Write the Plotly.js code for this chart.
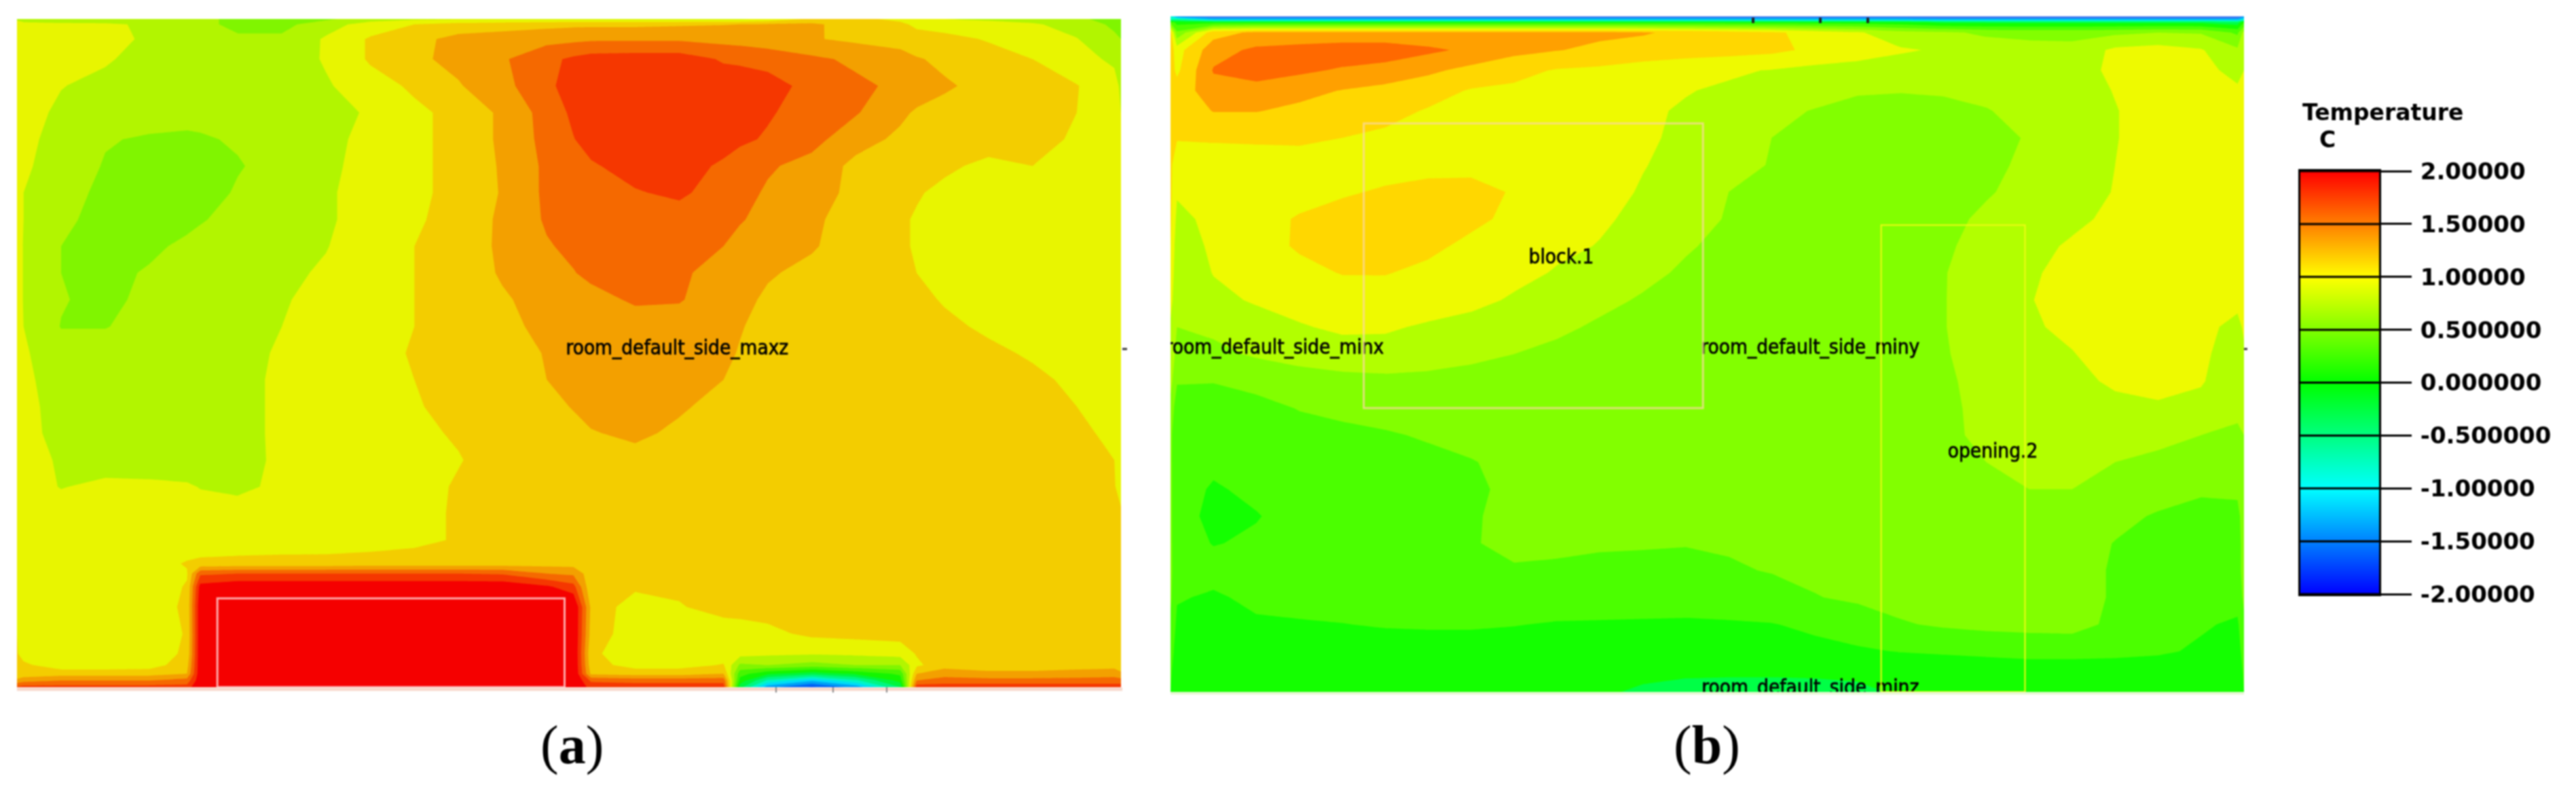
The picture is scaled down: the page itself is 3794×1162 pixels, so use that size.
<!DOCTYPE html>
<html><head><meta charset="utf-8">
<script src="https://cdn.plot.ly/plotly-3.0.1.min.js"></script>
<style>html,body{margin:0;padding:0;background:#fff}#c{width:3794px;height:1162px;filter:blur(1.1px)}.textpoint text{stroke:#000;stroke-width:.7px}</style></head>
<body><div id="c"></div>
<script>
// Contour levels and band colours, lowest band first
const levelStart=-2, levelEnd=2, levelStep=0.25;
const bandColorsA=['rgb(0,0,245)','rgb(0,40,245)','rgb(0,100,245)','rgb(0,160,245)','rgb(0,220,245)','rgb(0,245,200)','rgb(0,245,130)','rgb(0,245,60)','rgb(20,245,0)','rgb(72,245,0)','rgb(128,245,0)','rgb(178,245,0)','rgb(232,245,0)','rgb(243,205,0)','rgb(243,160,0)','rgb(245,105,0)','rgb(245,55,0)','rgb(245,0,0)'];
const bandColorsB=['rgb(0,0,245)','rgb(40,60,240)','rgb(60,120,240)','rgb(0,170,245)','rgb(0,225,245)','rgb(0,255,200)','rgb(0,255,130)','rgb(0,255,70)','rgb(20,255,0)','rgb(75,255,0)','rgb(130,255,0)','rgb(178,255,0)','rgb(238,250,0)','rgb(255,215,0)','rgb(255,160,0)','rgb(255,105,0)','rgb(255,55,0)','rgb(245,0,0)'];
// Panel (a): temperature read at grid points (% of width, % of height from top)
const xA=[0,.6,4,8,12,15.4,16.6,20,24,28,32,36,40,44,48,50.4,52,56,60,64,65.5,68,72,76,80,81.5,84,88,92,96,99.4,100];
const yA=[0,.8,3,6,10,14,18,22,26,30,34,38,42,46,50,54,58,62,66,70,74,78,81.5,83,85,88,92,95,96.7,98,99,100];
const zA=[
[.7,.6,.55,.55,.55,.55,.55,.45,.35,.45,.65,.7,.72,.72,.72,.72,.72,.72,.72,.72,.72,.8,1.05,1.05,.95,.85,.75,.7,.65,.55,.4,.4],
[.9,.85,.82,.8,.7,.62,.58,.42,.42,.65,.85,1,1.1,1.15,1.18,1.2,1.2,1.2,1.22,1.24,1.25,1.28,1.3,1.12,1.05,.95,.9,.85,.78,.65,.45,.45],
[.95,.88,.88,.85,.7,.62,.6,.55,.55,.78,1.03,1.17,1.33,1.36,1.42,1.44,1.46,1.46,1.46,1.42,1.4,1.35,1.27,1.2,1.15,1.1,1.07,.98,.85,.76,.55,.5],
[1,.9,.85,.78,.65,.6,.58,.58,.58,.78,1.03,1.2,1.32,1.47,1.68,1.8,1.86,1.88,1.88,1.72,1.7,1.66,1.55,1.45,1.35,1.27,1.2,1.1,1,.85,.7,.6],
[1,.85,.76,.68,.62,.58,.57,.56,.56,.72,.9,1.04,1.23,1.42,1.7,1.85,1.88,1.9,1.9,1.9,1.9,1.85,1.67,1.55,1.45,1.38,1.28,1.18,1.1,1.01,.85,.7],
[1,.85,.7,.65,.62,.6,.59,.58,.58,.6,.8,.95,1.07,1.3,1.6,1.8,1.88,1.9,1.9,1.9,1.88,1.78,1.63,1.52,1.3,1.22,1.18,1.1,1.05,1,.85,.75],
[1,.8,.68,.52,.47,.45,.47,.53,.55,.68,.82,.95,1.07,1.3,1.58,1.74,1.85,1.9,1.9,1.88,1.8,1.72,1.58,1.35,1.2,1.18,1.15,1.1,1.05,.98,.85,.75],
[1,.78,.66,.48,.42,.4,.4,.48,.6,.7,.83,.95,1.07,1.28,1.55,1.68,1.72,1.85,1.88,1.7,1.62,1.53,1.42,1.18,1.13,1.1,1.04,.95,1,.97,.85,.75],
[1,.75,.6,.44,.4,.38,.38,.53,.65,.72,.84,.95,1.07,1.27,1.55,1.6,1.65,1.73,1.8,1.62,1.58,1.47,1.33,1.2,1.06,1.02,.95,.9,.9,.9,.82,.75],
[1,.75,.55,.42,.38,.42,.48,.58,.64,.72,.84,.97,1.08,1.3,1.53,1.6,1.63,1.63,1.63,1.58,1.52,1.42,1.28,1.18,1.03,.98,.93,.9,.9,.9,.82,.75],
[1,.72,.5,.4,.44,.56,.58,.62,.67,.74,.88,1,1.1,1.3,1.48,1.55,1.6,1.64,1.62,1.5,1.42,1.35,1.27,1.15,1.03,.98,.93,.9,.9,.9,.82,.75],
[1,.72,.5,.42,.53,.6,.62,.64,.7,.78,.9,1,1.1,1.28,1.42,1.49,1.55,1.6,1.53,1.43,1.38,1.27,1.2,1.1,1.03,1,.92,.88,.88,.88,.82,.75],
[1,.72,.52,.42,.58,.6,.62,.66,.73,.82,.9,1,1.1,1.22,1.35,1.4,1.43,1.53,1.52,1.35,1.3,1.22,1.17,1.13,1.08,1.06,.98,.88,.85,.85,.8,.75],
[1,.75,.49,.49,.58,.6,.62,.66,.75,.84,.9,1,1.1,1.2,1.3,1.35,1.38,1.4,1.38,1.3,1.26,1.2,1.15,1.12,1.08,1.07,1.05,.96,.88,.85,.8,.75],
[1,.78,.6,.6,.6,.6,.62,.67,.78,.84,.92,1.02,1.1,1.18,1.26,1.3,1.33,1.35,1.33,1.28,1.24,1.18,1.14,1.12,1.1,1.1,1.08,1.05,.97,.88,.8,.75],
[1,.8,.64,.6,.6,.6,.62,.67,.8,.85,.92,1,1.08,1.16,1.25,1.3,1.33,1.35,1.32,1.25,1.2,1.15,1.12,1.1,1.1,1.1,1.1,1.08,1.05,.95,.82,.75],
[1,.82,.66,.6,.6,.6,.62,.67,.8,.86,.92,.98,1.07,1.13,1.2,1.26,1.3,1.32,1.27,1.2,1.17,1.14,1.12,1.1,1.1,1.1,1.1,1.1,1.07,1,.85,.75],
[1,.82,.68,.62,.6,.6,.62,.67,.8,.86,.92,.96,1.02,1.1,1.16,1.2,1.24,1.28,1.22,1.17,1.15,1.13,1.12,1.1,1.1,1.1,1.1,1.1,1.08,1.05,.95,.75],
[1,.85,.72,.65,.62,.6,.62,.66,.8,.86,.9,.95,.99,1.08,1.13,1.15,1.17,1.2,1.14,1.13,1.12,1.12,1.12,1.12,1.12,1.12,1.12,1.12,1.1,1.07,1,.85],
[1,.85,.74,.8,.8,.78,.74,.7,.8,.85,.9,.93,1.02,1.05,1.1,1.12,1.12,1.12,1.12,1.12,1.12,1.12,1.12,1.12,1.12,1.12,1.12,1.12,1.1,1.08,1.03,.85],
[1,.88,.85,.85,.85,.85,.85,.85,.86,.88,.9,.95,1.02,1.08,1.1,1.1,1.1,1.1,1.1,1.1,1.1,1.1,1.1,1.1,1.1,1.1,1.1,1.1,1.1,1.1,1.07,1.05],
[1,.88,.86,.86,.86,.86,.86,.86,.87,.88,.9,.95,1.02,1.08,1.1,1.1,1.1,1.1,1.1,1.1,1.1,1.1,1.1,1.1,1.1,1.1,1.1,1.1,1.1,1.1,1.1,1.1],
[1,.88,.86,.86,.9,1.02,1.05,1.07,1.08,1.08,1.1,1.1,1.1,1.12,1.15,1.15,1.1,1.1,1.1,1.1,1.1,1.1,1.1,1.1,1.1,1.1,1.1,1.1,1.1,1.1,1.1,1.1],
[1,.88,.86,.86,.92,.98,1.7,1.75,1.75,1.75,1.75,1.75,1.75,1.72,1.5,1.45,1.1,1.1,1.1,1.1,1.1,1.1,1.1,1.1,1.1,1.1,1.1,1.1,1.1,1.1,1.1,1.1],
[1,.88,.86,.86,.86,1.02,2.1,2.2,2.2,2.2,2.2,2.2,2.2,2.2,2.05,1.85,1.05,1.05,1.05,1.08,1.1,1.1,1.1,1.1,1.1,1.1,1.1,1.1,1.1,1.1,1.1,1.1],
[1,.85,.85,.85,.86,1.05,2.2,2.2,2.2,2.2,2.2,2.2,2.2,2.2,2.2,2.3,1.2,.85,.98,1.1,1.1,1.1,1.1,1.1,1.1,1.1,1.1,1.1,1.1,1.1,1.1,1.1],
[1,.85,.85,.85,.85,1.02,2.2,2.2,2.2,2.2,2.2,2.2,2.2,2.2,2.2,2.3,1.15,.85,.85,.85,.88,.94,1.05,1.08,1.1,1.1,1.1,1.1,1.1,1.1,1.1,1.1],
[1.02,.9,.85,.85,.85,1.05,2.2,2.2,2.2,2.2,2.2,2.2,2.2,2.2,2.2,2.3,1.05,.85,.85,.85,.85,.8,.78,.8,.85,1.02,1.12,1.12,1.12,1.12,1.12,1.1],
[1.05,1.05,.85,.85,.88,1.15,2.2,2.2,2.2,2.2,2.2,2.2,2.2,2.2,2.2,2.3,1.1,.9,.9,1.02,.45,.5,.4,.5,.5,.95,1.15,1.15,1.15,1.15,1.15,1.1],
[1.1,1.1,1.15,1.15,1.15,1.25,2.2,2.2,2.2,2.2,2.2,2.2,2.2,2.2,2.2,2.3,1.2,1.15,1.15,1.25,.1,-.2,-.4,-.2,.05,1.25,1.4,1.3,1.3,1.35,1.4,1.3],
[1.3,1.4,1.5,1.5,1.5,1.6,2.2,2.2,2.2,2.2,2.2,2.2,2.2,2.2,2.2,2.3,1.7,1.65,1.65,1.65,-.1,-.8,-1.2,-.8,-.15,1.5,1.6,1.6,1.6,1.6,1.6,1.6],
[1.8,1.85,1.85,1.85,1.85,1.85,2.3,2.3,2.3,2.3,2.3,2.3,2.3,2.3,2.3,2.3,1.9,1.9,1.9,1.9,-.4,-1.4,-1.8,-1.4,-.5,1.9,1.9,1.9,1.9,1.9,1.9,1.9]
];
// Panel (b)
const xB=[0,.6,4,8,12,16,20,24,28,32,36,40,44,48,52,56,60,64,68,72,76,80,84,88,92,96,99.4,100];
const yB=[0,.45,.9,2.4,5,8,11,14,18,22,26,30,34,38,42,46,50,54,58,62,66,70,74,78,82,86,90,94,97,100];
const zB=[
[-1,-1.5,-1.7,-1.7,-1.7,-1.7,-1.7,-1.7,-1.7,-1.7,-1.7,-1.7,-1.7,-1.7,-1.7,-1.7,-1.7,-1.7,-1.7,-1.7,-1.7,-1.7,-1.7,-1.7,-1.7,-1.7,-1.7,-1.5],
[-.8,-.7,-1.3,-1.3,-1.3,-1.3,-1.3,-1.3,-1.3,-1.3,-1.3,-1.3,-1.3,-1.3,-1.3,-1.3,-1.3,-1.3,-1.3,-1.4,-1.4,-1.4,-1.4,-1.4,-1.4,-1.4,-1.4,-1],
[.2,-.1,-.1,-.1,-.1,-.1,-.1,-.1,-.1,-.1,-.1,-.1,-.1,-.1,-.1,-.1,-.1,-.1,-.15,-.3,-.3,-.3,-.3,-.3,-.3,-.3,-.4,0],
[1.1,.3,1.15,1.3,1.3,1.3,1.3,1.3,1.3,1.3,1.3,1.3,1.27,1.2,1.12,1.05,.9,.78,.6,.55,.45,.42,.42,.45,.5,.48,.2,.6],
[1.1,.9,1.4,1.55,1.6,1.65,1.65,1.55,1.45,1.32,1.26,1.2,1.16,1.12,1.1,1.06,.95,.87,.78,.72,.65,.6,.58,.8,.85,.77,.55,.7],
[1.1,.95,1.52,1.65,1.55,1.47,1.4,1.3,1.18,1.08,.98,.95,.88,.83,.78,.74,.68,.65,.62,.58,.55,.58,.65,.8,.88,.85,.65,.75],
[1.1,1.1,1.4,1.38,1.32,1.24,1.18,1.1,.98,.95,.9,.85,.8,.76,.72,.65,.58,.52,.51,.52,.55,.58,.65,.76,.88,.9,.8,.8],
[1.1,1.1,1.26,1.26,1.2,1.15,1.08,.98,.93,.9,.86,.82,.78,.73,.65,.55,.49,.44,.43,.45,.49,.56,.65,.74,.85,.9,.8,.8],
[1.05,1.02,1.03,1.04,1.05,1,.95,.92,.9,.88,.85,.82,.78,.71,.6,.5,.42,.38,.37,.38,.42,.52,.65,.74,.85,.9,.82,.8],
[1.05,.85,.87,.88,.88,.88,.9,.92,.93,.9,.86,.82,.76,.68,.56,.49,.42,.38,.37,.38,.44,.55,.64,.75,.85,.9,.82,.8],
[1.05,.78,.85,.88,.92,.97,1.03,1.08,1.08,.98,.9,.83,.73,.63,.5,.45,.4,.38,.37,.4,.48,.57,.66,.76,.85,.9,.82,.8],
[1.05,.68,.82,.92,1.02,1.1,1.12,1.12,1.05,.95,.86,.78,.7,.6,.48,.42,.38,.36,.37,.44,.54,.62,.7,.8,.87,.9,.84,.8],
[1,.6,.8,.9,1.03,1.1,1.1,1.05,.95,.88,.8,.74,.64,.52,.45,.4,.37,.36,.38,.47,.57,.68,.78,.87,.9,.9,.85,.8],
[.95,.55,.76,.85,.93,1.01,1.01,.95,.87,.82,.73,.65,.55,.47,.42,.38,.36,.36,.4,.49,.6,.72,.82,.88,.9,.9,.85,.8],
[.85,.55,.68,.78,.84,.88,.9,.87,.82,.72,.65,.55,.48,.43,.39,.37,.36,.37,.41,.49,.62,.74,.83,.88,.9,.9,.85,.8],
[.7,.5,.55,.63,.73,.79,.78,.72,.66,.6,.54,.47,.42,.39,.37,.36,.36,.37,.42,.49,.62,.72,.8,.88,.9,.85,.65,.8],
[.7,.4,.44,.53,.6,.65,.66,.6,.55,.5,.45,.41,.38,.36,.36,.36,.37,.38,.42,.48,.6,.68,.74,.85,.88,.8,.62,.7],
[.6,.27,.26,.32,.38,.42,.44,.44,.42,.4,.38,.37,.36,.36,.36,.36,.37,.38,.42,.47,.56,.62,.7,.78,.82,.77,.6,.7],
[.4,.12,.14,.18,.26,.3,.33,.35,.36,.37,.37,.37,.37,.37,.37,.37,.37,.38,.41,.46,.55,.6,.65,.7,.72,.68,.6,.6],
[.3,.1,.12,.14,.17,.2,.23,.27,.31,.35,.36,.37,.37,.37,.37,.37,.37,.37,.4,.46,.54,.58,.6,.58,.55,.5,.42,.5],
[.3,.08,.04,.1,.13,.15,.17,.2,.24,.3,.35,.37,.37,.37,.37,.37,.37,.37,.39,.43,.5,.54,.55,.5,.46,.42,.35,.4],
[.3,.08,-.02,.04,.1,.13,.15,.18,.21,.3,.35,.36,.36,.36,.36,.36,.36,.36,.36,.38,.43,.5,.5,.45,.38,.28,.27,.35],
[.3,.08,-.05,-.01,.07,.12,.15,.18,.235,.29,.33,.36,.36,.36,.36,.36,.36,.36,.36,.38,.38,.38,.38,.33,.22,.18,.22,.3],
[.3,.1,-.01,.03,.08,.12,.15,.19,.235,.3,.29,.27,.26,.255,.27,.3,.33,.35,.36,.37,.37,.37,.37,.24,.17,.16,.2,.3],
[.3,.12,.08,.1,.12,.14,.15,.17,.19,.23,.22,.21,.22,.22,.23,.26,.3,.33,.35,.36,.36,.36,.36,.22,.15,.14,.2,.3],
[.3,.02,-.03,.05,.08,.1,.12,.13,.13,.14,.15,.16,.16,.16,.16,.18,.24,.29,.33,.35,.36,.36,.36,.22,.15,.12,.1,.3],
[.2,-.05,-.05,-.03,-.02,-.005,.02,.03,.03,.01,-.02,-.03,-.04,-.05,-.03,-.01,.05,.12,.23,.28,.31,.32,.33,.2,.12,.03,-.04,.2],
[.1,-.1,-.12,-.12,-.12,-.12,-.12,-.12,-.12,-.12,-.12,-.12,-.12,-.12,-.12,-.1,-.07,-.03,.01,.04,.07,.1,.1,.08,.04,-.04,-.1,.1],
[.05,-.18,-.2,-.2,-.2,-.2,-.2,-.2,-.2,-.2,-.2,-.2,-.2,-.2,-.2,-.2,-.2,-.2,-.2,-.2,-.18,-.16,-.16,-.16,-.16,-.18,-.2,.05],
[0,-.15,-.15,-.15,-.15,-.15,-.15,-.15,-.16,-.18,-.2,-.22,-.28,-.35,-.38,-.38,-.35,-.3,-.22,-.2,-.2,-.18,-.15,-.15,-.15,-.15,-.15,0]
];
// Colour key
const keyLevels=[-2,-1.75,-1.5,-1.25,-1,-.75,-.5,-.25,0,.25,.5,.75,1,1.25,1.5,1.75,2];
const keyColors=[[0,'rgb(0,0,255)'],[.125,'rgb(0,128,255)'],[.25,'rgb(0,255,255)'],[.375,'rgb(0,255,128)'],[.5,'rgb(0,255,0)'],[.625,'rgb(128,255,0)'],[.75,'rgb(255,255,0)'],[.875,'rgb(255,128,0)'],[1,'rgb(255,0,0)']];
const keyTicks=[-2,-1.5,-1,-.5,0,.5,1,1.5,2];
const keyTickText=['-2.00000','-1.50000','-1.00000','-0.500000','0.000000','0.500000','1.00000','1.50000','2.00000'];
// Labels
const labelsA=['room_default_side_maxz'], labelsAx=[59.8], labelsAy=[49.5];
const labelsB=['room_default_side_minx','room_default_side_miny','block.1','opening.2','room_default_side_minz'];
const labelsBx=[9.7,59.6,36.4,76.6,59.6], labelsBy=[49.2,49.2,35.8,64.6,99.6];

const W=3794,H=1162;
const px=v=>v/W, py=v=>1-v/H;
const scale=c=>c.map((s,i)=>[i/(c.length-1),s]);
const contour=(x,y,z,c,xa,ya)=>({type:'contour',x,y,z,xaxis:xa,yaxis:ya,autocontour:false,
  contours:{start:levelStart,end:levelEnd,size:levelStep,coloring:'fill',showlines:false},
  line:{width:0,smoothing:0},colorscale:scale(c),showscale:false,hoverinfo:'skip'});
const textFont={family:'"DejaVu Sans Condensed",sans-serif',size:29.5,color:'#000'};
const labels=(t,x,y,xa,ya)=>({type:'scatter',mode:'text',text:t,x,y,xaxis:xa,yaxis:ya,cliponaxis:true,textposition:'middle center',textfont:textFont,hoverinfo:'skip',showlegend:false});
const traces=[
 contour(xA,yA,zA,bandColorsA,'x','y'),
 contour(xB,yB,zB,bandColorsB,'x2','y2'),
 labels(labelsA,labelsAx,labelsAy,'x','y'),
 labels(labelsB,labelsBx,labelsBy,'x2','y2'),
 {type:'heatmap',x:[0,1],y:keyLevels,z:keyLevels.map(v=>[v,v]),zmin:-2,zmax:2,zsmooth:'best',colorscale:keyColors,showscale:false,xaxis:'x3',yaxis:'y3',hoverinfo:'skip'}
];
const hidden=(d,r,anchor)=>({domain:d,range:r,visible:false,fixedrange:true,anchor});
const rect=(xa,ya,x0,x1,y0,y1,color,w)=>({type:'rect',xref:xa,yref:ya,x0,x1,y0,y1,line:{color,width:w},fillcolor:'rgba(0,0,0,0)',layer:'above'});
const tick=(x,y0,y1,c,w)=>({type:'line',xref:'paper',yref:'paper',x0:px(x),x1:px(x),y0:py(y0),y1:py(y1),line:{color:c,width:w}});
const hTick=(x0,x1,y,c,w)=>({type:'line',xref:'paper',yref:'paper',x0:px(x0),x1:px(x1),y0:py(y),y1:py(y),line:{color:c,width:w}});
const shapes=[
 rect('x','y',18.15,49.6,86.7,100,'rgba(255,190,190,0.9)',3),
 rect('x2','y2',18,49.6,15.85,58,'rgba(250,215,160,0.75)',3),
 rect('x2','y2',66.2,79.6,30.9,100,'rgb(240,250,20)',2),
 ...keyTicks.map(v=>({type:'line',xref:'x3',yref:'y3',x0:0,x1:1,y0:v,y1:v,line:{color:'#000',width:3}})),
 hTick(25,1653,1015,'rgba(245,205,190,0.8)',5),
 hTick(1724,3305,1021,'rgba(225,245,200,0.8)',4),
 tick(1143,1012,1020,'#888',2),tick(1227,1012,1020,'#888',2),tick(1306,1012,1020,'#888',2),
 tick(2582,26,34,'#222',4),tick(2681,26,34,'#222',4),tick(2751,26,34,'#222',4),
 hTick(1653,1660,514,'#333',3),hTick(3305,3310,514,'#333',3)
];
const ann=(t,x,y,size,fam,anchor)=>({text:t,xref:'paper',yref:'paper',x:px(x),y:py(y),xanchor:anchor||'left',yanchor:'middle',showarrow:false,font:{family:fam,size,color:'#000'}});
const layout={width:W,height:H,margin:{l:0,r:0,t:0,b:0},paper_bgcolor:'#fff',plot_bgcolor:'#fff',showlegend:false,
 xaxis:hidden([px(25),px(1651)],[0,100],'y'),yaxis:hidden([py(1012),py(28)],[100,0],'x'),
 xaxis2:hidden([px(1724),px(3305)],[0,100],'y2'),yaxis2:hidden([py(1019),py(24)],[100,0],'x2'),
 xaxis3:{domain:[px(3388),px(3504)],range:[0,1],anchor:'y3',showticklabels:false,ticks:'',showgrid:false,zeroline:false,showline:true,mirror:true,linecolor:'#000',linewidth:3,fixedrange:true},
 yaxis3:{domain:[py(875),py(252)],range:[-2,2],anchor:'x3',side:'right',tickmode:'array',tickvals:keyTicks,ticktext:keyTickText,ticks:'outside',ticklen:45,tickwidth:3,tickcolor:'#000',ticklabelstandoff:6,showgrid:false,zeroline:false,showline:true,mirror:true,linecolor:'#000',linewidth:3,fixedrange:true,tickfont:{family:'"DejaVu Sans",sans-serif',size:34,color:'#000',weight:700}},
 shapes,
 annotations:[
  ann('<b>Temperature</b>',3389,166,33,'"DejaVu Sans",sans-serif'),
  ann('<b>C</b>',3414,205,33,'"DejaVu Sans",sans-serif'),
  ann('(<b>a</b>)',842,1097,80,'"Liberation Serif",serif','center'),
  ann('(<b>b</b>)',2514,1097,80,'"Liberation Serif",serif','center')
 ]};
Plotly.newPlot('c',traces,layout,{displayModeBar:false,staticPlot:true,responsive:false});
</script></body></html>
